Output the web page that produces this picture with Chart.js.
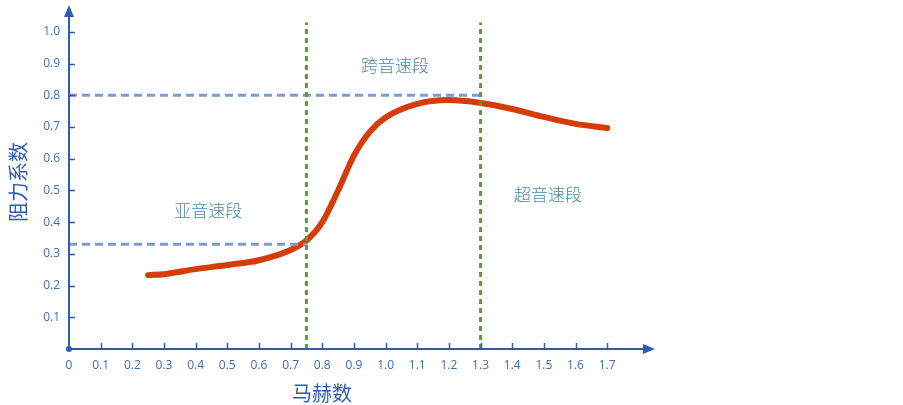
<!DOCTYPE html>
<html>
<head>
<meta charset="utf-8">
<script src="https://cdn.jsdelivr.net/npm/chart.js@4"></script>
<style>
  html, body { margin: 0; padding: 0; background: #fff; }
</style>
</head>
<body>
<canvas id="chart" width="903" height="405"></canvas>
<script>
// drag coefficient vs Mach number
const mach = [0.25, 0.3, 0.4, 0.5, 0.6, 0.7, 0.75, 0.8, 0.85, 0.9, 0.95, 1.0, 1.1, 1.2, 1.3, 1.4, 1.5, 1.6, 1.7];
const drag = [0.233, 0.236, 0.252, 0.265, 0.28, 0.312, 0.342, 0.40, 0.50, 0.61, 0.685, 0.73, 0.773, 0.785, 0.776, 0.757, 0.732, 0.71, 0.697];

const xTicks = [0, 0.1, 0.2, 0.3, 0.4, 0.5, 0.6, 0.7, 0.8, 0.9, 1.0, 1.1, 1.2, 1.3, 1.4, 1.5, 1.6, 1.7];
const yTicks = [0.1, 0.2, 0.3, 0.4, 0.5, 0.6, 0.7, 0.8, 0.9, 1.0];

// boundaries between the regimes and the matching drag levels
const boundaryMach = [0.75, 1.3];
const boundaryDrag = [0.33, 0.8];

const regionNames = ["亚音速段", "跨音速段", "超音速段"];
const regionX = [0.44, 1.03, 1.513];
const regionY = [0.438, 0.893, 0.486];

const xTitle = "马赫数";
const yTitle = "阻力系数";

const axisColor = "#2f5cae";
const tickColor = "#3d6bbd";

const axesPlugin = {
  id: "axes",
  afterDraw(chart) {
    const ctx = chart.ctx;
    const xs = chart.scales.x, ys = chart.scales.y;
    const area = chart.chartArea;
    const x0 = xs.getPixelForValue(0), y0 = ys.getPixelForValue(0);
    ctx.save();
    ctx.strokeStyle = axisColor;
    ctx.fillStyle = axisColor;
    ctx.lineWidth = 2;
    // axis lines
    ctx.beginPath();
    ctx.moveTo(x0, y0);
    ctx.lineTo(area.right - 8, y0);
    ctx.moveTo(x0, y0);
    ctx.lineTo(x0, area.top + 8);
    ctx.stroke();
    // arrows
    ctx.beginPath();
    ctx.moveTo(area.right, y0);
    ctx.lineTo(area.right - 12, y0 - 5);
    ctx.lineTo(area.right - 12, y0 + 5);
    ctx.closePath();
    ctx.fill();
    ctx.beginPath();
    ctx.moveTo(x0, area.top);
    ctx.lineTo(x0 - 5, area.top + 12);
    ctx.lineTo(x0 + 5, area.top + 12);
    ctx.closePath();
    ctx.fill();
    // tick marks
    ctx.lineWidth = 1.5;
    ctx.beginPath();
    xTicks.forEach(v => {
      if (v === 0) return;
      const px = Math.round(xs.getPixelForValue(v)) + 0.5;
      ctx.moveTo(px, y0);
      ctx.lineTo(px, y0 - 6);
    });
    yTicks.forEach(v => {
      const py = Math.round(ys.getPixelForValue(v)) + 0.5;
      ctx.moveTo(x0, py);
      ctx.lineTo(x0 + 6, py);
    });
    ctx.stroke();
    // origin dot
    ctx.beginPath();
    ctx.arc(x0, y0, 3, 0, Math.PI * 2);
    ctx.fill();

    // region labels
    ctx.fillStyle = "#4a87aa";
    ctx.font = "300 17px 'Noto Sans CJK SC'";
    ctx.textAlign = "center";
    ctx.textBaseline = "middle";
    regionNames.forEach((t, i) => {
      ctx.fillText(t, xs.getPixelForValue(regionX[i]), ys.getPixelForValue(regionY[i]));
    });

    // axis titles
    ctx.fillStyle = axisColor;
    ctx.font = "20px 'Noto Sans CJK SC'";
    ctx.fillText(xTitle, 322, 393);
    ctx.translate(18, 182);
    ctx.rotate(-Math.PI / 2);
    ctx.fillText(yTitle, 0, 0);
    ctx.restore();
  }
};

const pts = (xa, ya) => xa.map((x, i) => ({ x: x, y: ya[i] }));

new Chart(document.getElementById("chart"), {
  type: "line",
  data: {
    datasets: [
      {
        // green boundary at 0.75
        data: pts([boundaryMach[0], boundaryMach[0]], [0, 1.03]),
        borderColor: "#5a9e35",
        borderWidth: 3,
        borderDash: [5, 4],
        pointRadius: 0,
      },
      {
        data: pts([boundaryMach[1], boundaryMach[1]], [0, 1.03]),
        borderColor: "#5a9e35",
        borderWidth: 3,
        borderDash: [5, 4],
        pointRadius: 0,
      },
      {
        // blue guides
        data: pts([0, boundaryMach[0]], [boundaryDrag[0], boundaryDrag[0]]),
        borderColor: "#7b9bd2",
        borderWidth: 3,
        borderDash: [8, 5],
        pointRadius: 0,
      },
      {
        data: pts([0, boundaryMach[1]], [boundaryDrag[1], boundaryDrag[1]]),
        borderColor: "#7b9bd2",
        borderWidth: 3,
        borderDash: [8, 5],
        pointRadius: 0,
      },
      {
        label: "阻力系数",
        data: pts(mach, drag),
        borderColor: "#d63b0a",
        borderWidth: 6,
        borderCapStyle: "round",
        cubicInterpolationMode: "monotone",
        pointRadius: 0,
      },
    ],
  },
  options: {
    responsive: false,
    animation: false,
    devicePixelRatio: 1,
    layout: { padding: { left: 0, right: 248, top: 5, bottom: 0 } },
    plugins: { legend: { display: false }, tooltip: { enabled: false } },
    scales: {
      x: {
        type: "linear",
        min: 0,
        max: 1.851,
        grid: { display: false, drawTicks: false },
        border: { display: false },
        afterBuildTicks: s => { s.ticks = xTicks.map(v => ({ value: v })); },
        afterFit: s => { s.height = 56; s.paddingLeft = 0; s.paddingRight = 0; },
        ticks: {
          autoSkip: false,
          maxRotation: 0,
          padding: 9,
          color: tickColor,
          font: { family: "'Open Sans'", size: 12 },
          callback: v => (v === 0 ? "0" : v.toFixed(1)),
        },
      },
      y: {
        min: 0,
        max: 1.085,
        grid: { display: false, drawTicks: false },
        border: { display: false },
        afterBuildTicks: s => { s.ticks = yTicks.map(v => ({ value: v })); },
        afterFit: s => { s.width = 69; s.paddingTop = 0; s.paddingBottom = 0; },
        ticks: {
          autoSkip: false,
          padding: 9,
          color: tickColor,
          font: { family: "'Open Sans'", size: 12 },
          callback: v => v.toFixed(1),
        },
      },
    },
  },
  plugins: [axesPlugin],
});
</script>
</body>
</html>
